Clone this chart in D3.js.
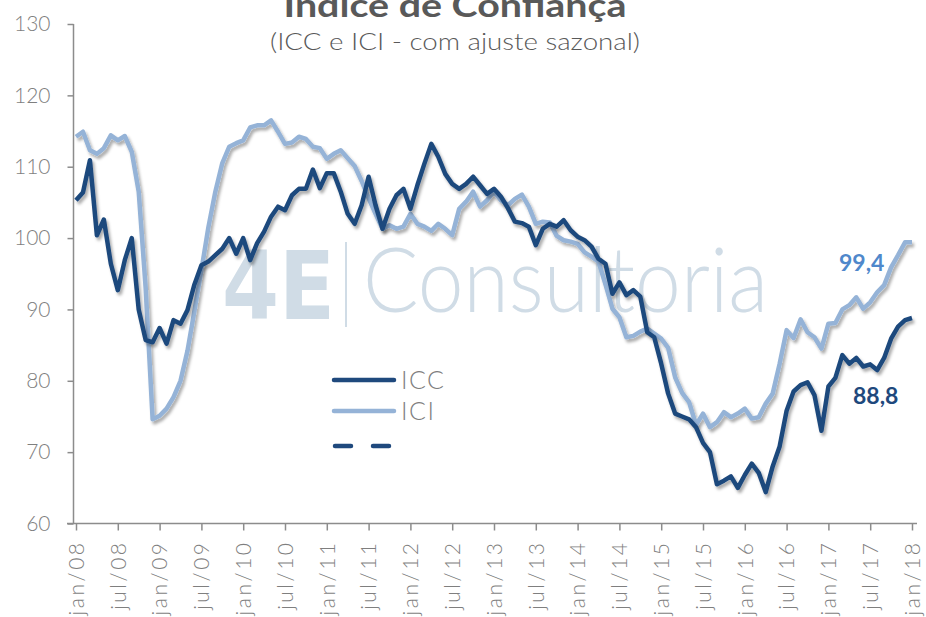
<!DOCTYPE html>
<html><head><meta charset="utf-8">
<script src="https://cdn.jsdelivr.net/npm/d3@7"></script>
<style>html,body{margin:0;padding:0;background:#fff}svg{display:block}</style>
</head><body><svg id="c" width="926" height="617"></svg>
<script>
// ---- data ----
const tickLabels = ["jan/08","jul/08","jan/09","jul/09","jan/10","jul/10","jan/11","jul/11","jan/12","jul/12","jan/13","jul/13","jan/14","jul/14","jan/15","jul/15","jan/16","jul/16","jan/17","jul/17","jan/18"];
const yTicks = [60,70,80,90,100,110,120,130];
const icc = [105.3,106.4,110.9,100.4,102.6,96.4,92.7,96.9,100.0,90.0,85.7,85.4,87.4,85.2,88.5,88.0,89.9,93.5,96.2,96.7,97.6,98.5,
100.0,97.8,100.0,96.9,99.3,100.9,103.0,104.4,103.9,106.0,106.9,106.9,109.6,107.0,109.1,109.1,106.5,103.4,102.0,104.6,108.6,104.6,
101.3,104.1,106.0,106.9,104.1,107.4,110.4,113.2,111.4,109.0,107.6,106.9,107.6,108.6,107.4,106.2,106.9,105.8,104.2,102.3,102.1,101.6,
99.0,101.3,102.0,101.6,102.5,101.1,100.2,99.7,98.8,97.1,96.4,92.2,93.8,92.0,92.7,91.8,86.8,86.1,82.4,78.2,75.4,75.0,74.6,73.5,71.3,
70.0,65.5,66.0,66.6,65.0,66.8,68.4,67.1,64.4,68.0,70.8,75.8,78.5,79.4,79.8,78.0,73.0,79.2,80.4,83.6,82.4,83.2,82.0,82.3,81.5,83.2,
85.9,87.6,88.5,88.8];
const ici = [114.2,114.9,112.3,111.8,112.6,114.4,113.7,114.3,112.1,106.5,93.0,74.6,75.1,76.1,77.7,80.0,84.2,89.8,95.5,101.5,106.5,110.5,
112.8,113.3,113.7,115.5,115.8,115.8,116.5,114.9,113.2,113.4,114.2,113.9,112.8,112.6,111.1,111.8,112.3,111.2,110.1,108.0,105.6,103.4,
101.3,101.8,101.3,101.6,103.4,102.0,101.6,101.0,102.0,101.3,100.4,104.1,105.1,106.5,104.4,105.3,106.5,105.3,104.6,105.5,106.1,104.4,
102.0,102.3,102.2,100.3,99.7,99.5,99.2,98.0,97.4,96.7,93.5,90.1,88.9,86.1,86.3,86.9,87.3,86.6,85.9,84.6,80.5,78.3,77.0,73.8,75.4,
73.5,74.2,75.6,74.9,75.4,76.1,74.7,74.9,76.8,78.2,82.4,87.1,86.0,88.6,86.8,86.1,84.5,88.0,88.1,90.0,90.6,91.7,90.1,91.0,92.4,93.4,
95.9,97.6,99.4,99.4];
const refLevel = 100;
const seriesNames = ["ICC","ICI"];
const lastLabels = ["88,8","99,4"];

// ---- styles ----
const cICC = "#1F497D", cICI = "#95B3D7", cGray = "#7F7F7F", cTitle = "#595959";
const FONT = "Lato, 'Open Sans', sans-serif";

const svg = d3.select("#c");
const x = d3.scaleLinear().domain([0, icc.length - 1]).range([76, 912]);
const y = d3.scaleLinear().domain([60, 130]).range([523.5, 24]);

const defs = svg.append("defs");
const f = defs.append("filter").attr("id","sh").attr("x","-5%").attr("y","-5%").attr("width","110%").attr("height","115%");
f.append("feDropShadow").attr("dx",2).attr("dy",3).attr("stdDeviation",1.8).attr("flood-color","#000").attr("flood-opacity",0.33);

// watermark
const wm = svg.append("g").attr("fill","#D0DCE6");
wm.append("text").attr("x",222).attr("y",319).attr("font-family","'DejaVu Sans', sans-serif").attr("font-weight","bold")
  .attr("font-size",94).attr("textLength",113).attr("lengthAdjust","spacingAndGlyphs").text("4E");
wm.append("rect").attr("x",345).attr("y",242).attr("width",2).attr("height",85);
wm.append("text").attr("x",363).attr("y",312).attr("font-family",FONT).attr("font-weight",300)
  .attr("font-size",90).attr("textLength",405).attr("lengthAdjust","spacingAndGlyphs").text("Consultoria");

// title
svg.append("text").attr("x",455).attr("y",17).attr("text-anchor","middle").attr("font-family",FONT)
  .attr("font-weight","bold").attr("font-size",33).attr("fill",cTitle)
  .attr("textLength",343).attr("lengthAdjust","spacingAndGlyphs").text("Índice de Confiança");
svg.append("text").attr("x",455).attr("y",50).attr("text-anchor","middle").attr("font-family",FONT)
  .attr("font-size",23).attr("font-weight",300).attr("fill",cTitle)
  .attr("textLength",370).attr("lengthAdjust","spacingAndGlyphs").text("(ICC e ICI - com ajuste sazonal)");

// axes
const yAxis = svg.append("g").attr("transform","translate(73.5,0)")
  .call(d3.axisLeft(y).tickValues(yTicks).tickSize(6).tickPadding(17));
yAxis.selectAll("text").attr("font-family",FONT).attr("font-size",21).attr("fill",cGray).attr("font-weight",300);
yAxis.selectAll("line,path").attr("stroke","#8C8C8C").attr("stroke-width",1.5);
yAxis.select(".domain").attr("d","M0," + y(130) + "V" + y(60));

const tickIdx = tickLabels.map((d,i)=>i*6);
const xAxis = svg.append("g").attr("transform","translate(0,523.5)")
  .call(d3.axisBottom(x).tickValues(tickIdx).tickFormat((d,i)=>tickLabels[i]).tickSize(7).tickPadding(10));
xAxis.select(".domain").attr("d","M67,0H917");
xAxis.selectAll("line,path").attr("stroke","#8C8C8C").attr("stroke-width",1.5);
xAxis.selectAll("text").attr("font-family",FONT).attr("font-size",21).attr("fill",cGray).attr("font-weight",300)
  .attr("letter-spacing",2.5)
  .attr("text-anchor","end").attr("dy","0.35em").attr("transform","translate(0,17) rotate(-90)").attr("x",0).attr("y",0);

// reference line
svg.append("line").attr("x1",x(0)+2).attr("x2",x(icc.length-1)).attr("y1",y(refLevel)).attr("y2",y(refLevel))
  .attr("stroke",cICC).attr("stroke-width",4.5).attr("stroke-dasharray","15.8,22.5").attr("stroke-linecap","round")
  .attr("filter","url(#sh)");

const line = d3.line().x((d,i)=>x(i)).y(d=>y(d));
svg.append("path").datum(ici).attr("d",line).attr("fill","none").attr("stroke",cICI).attr("stroke-width",4.5)
  .attr("stroke-linejoin","round").attr("filter","url(#sh)");
svg.append("path").datum(icc).attr("d",line).attr("fill","none").attr("stroke",cICC).attr("stroke-width",4.5)
  .attr("stroke-linejoin","round").attr("filter","url(#sh)");

// legend
const lg = svg.append("g");
[["ICC",cICC,380,null],["ICI",cICI,411,null],["",cICC,446,"16,22"]].forEach(([t,c,yy,da])=>{
  const l = lg.append("line").attr("x1",334).attr("x2",394).attr("y1",yy).attr("y2",yy)
    .attr("stroke",c).attr("stroke-width",4.5).attr("stroke-linecap","round");
  if (da) l.attr("x1",335).attr("stroke-dasharray",da);
  if (t) lg.append("text").attr("x",401).attr("y",yy+9).attr("font-family",FONT).attr("font-size",25)
    .attr("font-weight",300).attr("letter-spacing",1.5).attr("fill",cGray).text(t);
});

// end labels
svg.append("text").attr("x",839).attr("y",271).attr("font-family",FONT).attr("font-weight","bold")
  .attr("font-size",23).attr("fill","#4F88CB").text(lastLabels[1]);
svg.append("text").attr("x",853).attr("y",404).attr("font-family",FONT).attr("font-weight","bold")
  .attr("font-size",23).attr("fill",cICC).text(lastLabels[0]);
</script></body></html>
